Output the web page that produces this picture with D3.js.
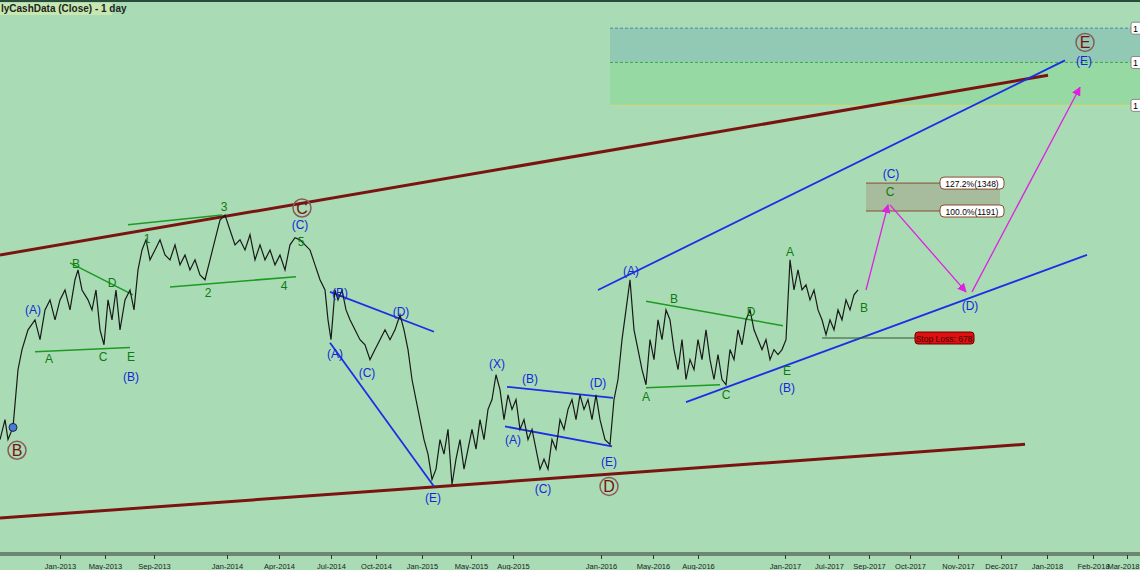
<!DOCTYPE html><html><head><meta charset="utf-8"><script src="https://cdn.jsdelivr.net/npm/d3@7"></script>
<style>body{margin:0;background:#a9dcb5}svg{display:block}</style></head><body><svg id="c" width="1140" height="570"></svg><script>
const days=[0,5,8,13,18,22,28,35,40,45,50,55,60,65,70,75,78,82,88,92,96,100,104,108,112,116,120,125,130,134,138,142,146,150,155,160,165,170,175,180,185,190,195,200,205,210,215,220,225,230,235,240,245,250,255,260,265,270,275,280,285,290,295,300,305,310,315,320,325,328,331,335,338,342,346,350,355,360,365,370,375,380,385,390,395,400,404,408,412,416,420,424,428,432,436,440,444,448,452,456,460,464,468,472,476,480,484,488,492,496,500,504,508,512,516,520,524,528,532,536,540,544,548,552,556,560,564,568,572,576,580,584,588,592,596,600,605,610,614,618,622,626,630,634,638,642,646,650,654,658,662,666,670,674,678,682,686,690,694,698,702,706,710,714,718,722,726,730,734,738,742,746,750,754,758,762,766,770,774,778,782,786,790,794,798,802,806,810,814,818,822,826,830,834,838,842,846,850,854,858];
const close=[432,472,432,456,589,644,703,735,673,768,803,735,803,839,768,878,917,839,803,768,839,703,658,803,735,839,703,803,839,768,917,1002,1048,959,1002,1048,980,959,1025,938,980,917,959,897,878,959,1048,1144,1170,1095,1025,1048,1002,1072,959,1025,959,1002,938,980,917,1025,1058,1048,1025,1002,938,878,839,735,673,839,803,839,768,735,703,673,658,616,644,673,703,673,703,751,703,644,564,516,472,432,405,362,379,432,405,452,354,396,432,379,414,452,414,472,432,494,516,576,539,472,527,494,516,452,472,432,452,414,379,396,379,432,414,472,452,494,516,472,527,494,516,472,527,472,432,423,516,564,673,768,878,703,644,589,551,673,616,735,673,768,735,644,589,673,564,616,589,673,616,703,616,564,630,564,551,644,616,703,658,735,768,703,673,644,673,616,644,630,644,673,959,839,917,839,858,803,839,768,735,688,735,703,768,735,803,768,821,839];
const tickDays=[60,105,154,227,279,331,376,422,471,513,601,653,698,785,829,869,910,958,1001,1047,1093,1127];
const tickLabels=["Jan-2013","May-2013","Sep-2013","Jan-2014","Apr-2014","Jul-2014","Oct-2014","Jan-2015","May-2015","Aug-2015","Jan-2016","May-2016","Aug-2016","Jan-2017","Jul-2017","Sep-2017","Oct-2017","Nov-2017","Dec-2017","Jan-2018","Feb-2018","Mar-2018"];
const maroonLines=[[[0,980],[1048,2174]],[[0,305],[1025,423]]];
const blueLines=[[[598,839],[1065,2323]],[[686,510],[1087,980]],[[330,832],[434,697]],[[330,664],[434,351]],[[507,546],[613,520]],[[505,458],[612,419]]];
const greenLines=[[[70,946],[133,821]],[[35,638],[130,650]],[[128,1120],[222,1170]],[[170,850],[296,890]],[[646,798],[783,716]],[[646,544],[720,551]]];
const arrows=[[[866,839],[888,1224]],[[890,1224],[966,832]],[[972,832],[1080,2062]]];
const stopLoss=678, fibHi=1348, fibLo=1191;
const circled=[[17,412,"B"],[302,1207,"C"],[609,351,"D"],[1085,2516,"E"]];
const blueLabels=[[33,771,"(A)"],[131,574,"(B)"],[300,1124,"(C)"],[340,832,"(B)"],[335,634,"(A)"],[367,584,"(C)"],[401,764,"(D)"],[433,335,"(E)"],[497,606,"(X)"],[530,569,"(B)"],[513,433,"(A)"],[543,349,"(C)"],[598,558,"(D)"],[609,393,"(E)"],[631,917,"(A)"],[787,546,"(B)"],[891,1409,"(C)"],[970,785,"(D)"],[1084,2323,"(E)"]];
const greenLabels=[[49,620,"A"],[103,626,"C"],[112,870,"D"],[76,946,"B"],[131,626,"E"],[147,1058,"1"],[224,1218,"3"],[208,832,"2"],[284,858,"4"],[301,1044,"5"],[674,811,"B"],[751,764,"D"],[646,525,"A"],[726,529,"C"],[787,587,"E"],[790,998,"A"],[864,778,"B"],[890,1301,"C"]];
const zoneLevels=[2680,2302,1903];

const svg=d3.select("#c");
const x=d3.scaleLinear().domain([0,1140]).range([0,1140]);
const y=d3.scaleLog().domain([1191,678]).range([211,338]);
const defs=svg.append("defs");
defs.append("marker").attr("id","ar").attr("viewBox","0 0 10 10").attr("refX",9).attr("refY",5).attr("markerWidth",7).attr("markerHeight",7).attr("orient","auto").append("path").attr("d","M0,0L10,5L0,10z").attr("fill","#e020e0");
svg.append("rect").attr("width",1140).attr("height",570).attr("fill","#a9dcb5");
svg.append("rect").attr("width",1140).attr("height",2).attr("fill","#2a4a3a");
svg.append("rect").attr("x",610).attr("y",y(zoneLevels[0])).attr("width",530).attr("height",y(zoneLevels[1])-y(zoneLevels[0])).attr("fill","#92c9b4");
svg.append("rect").attr("x",610).attr("y",y(zoneLevels[1])).attr("width",530).attr("height",y(zoneLevels[2])-y(zoneLevels[1])).attr("fill","#97d9a3");
[["#4f86a8","3,2"],["#3caa4a","3,2"],["#d6d67a",null]].forEach((s,i)=>{svg.append("line").attr("x1",610).attr("x2",1132).attr("y1",y(zoneLevels[i])).attr("y2",y(zoneLevels[i])).attr("stroke",s[0]).attr("stroke-dasharray",s[1]);
 svg.append("rect").attr("x",1131).attr("y",y(zoneLevels[i])-6).attr("width",14).attr("height",12).attr("rx",2).attr("fill","#fff").attr("stroke","#888");
 svg.append("text").attr("x",1133).attr("y",y(zoneLevels[i])+4).attr("font-size",9).attr("font-family","Liberation Sans").text("1");});
svg.append("rect").attr("x",866).attr("y",y(fibHi)).attr("width",134).attr("height",y(fibLo)-y(fibHi)).attr("fill","#a6b79a").attr("opacity",0.9);
[[fibHi,"127.2%(1348)"],[fibLo,"100.0%(1191)"]].forEach(d=>{svg.append("line").attr("x1",866).attr("x2",940).attr("y1",y(d[0])).attr("y2",y(d[0])).attr("stroke","#8a4a30");
 svg.append("rect").attr("x",940).attr("y",y(d[0])-6).attr("width",64).attr("height",12).attr("rx",4).attr("fill","#fff").attr("stroke","#8a4a30");
 svg.append("text").attr("x",972).attr("y",y(d[0])+4).attr("text-anchor","middle").attr("font-size",8.5).attr("font-family","Liberation Sans").text(d[1]);});
const ln=d3.line().x(d=>x(d[0])).y(d=>y(d[1]));
maroonLines.forEach(l=>svg.append("path").attr("d",ln(l)).attr("stroke","#7a1410").attr("stroke-width",3).attr("fill","none"));
blueLines.forEach(l=>svg.append("path").attr("d",ln(l)).attr("stroke","#1c2ee6").attr("stroke-width",1.8).attr("fill","none"));
greenLines.forEach(l=>svg.append("path").attr("d",ln(l)).attr("stroke","#1e9a22").attr("stroke-width",1.5).attr("fill","none"));
svg.append("path").attr("d",d3.line().x((d,i)=>x(days[i])).y(d=>y(d))(close)).attr("stroke","#1a1a1a").attr("stroke-width",1.2).attr("fill","none");
svg.append("line").attr("x1",x(822)).attr("x2",x(915)).attr("y1",y(stopLoss)).attr("y2",y(stopLoss)).attr("stroke","#335533");
svg.append("rect").attr("x",915).attr("y",y(stopLoss)-6).attr("width",59).attr("height",12).attr("rx",3).attr("fill","#e01010").attr("stroke","#600");
svg.append("text").attr("x",944).attr("y",y(stopLoss)+4).attr("text-anchor","middle").attr("font-size",8.5).attr("font-family","Liberation Sans").attr("fill","#400").text("Stop Loss: 678");
arrows.forEach(l=>svg.append("path").attr("d",ln(l)).attr("stroke","#e020e0").attr("stroke-width",1.3).attr("fill","none").attr("marker-end","url(#ar)"));
svg.append("circle").attr("cx",x(13)).attr("cy",y(456)).attr("r",4).attr("fill","#4a7ad8").attr("stroke","#224");
const F="Liberation Sans";
circled.forEach(d=>{svg.append("circle").attr("cx",x(d[0])).attr("cy",y(d[1])).attr("r",9).attr("fill","none").attr("stroke","#8a5a5a").attr("stroke-width",1.5);
 svg.append("text").attr("x",x(d[0])).attr("y",y(d[1])+6).attr("text-anchor","middle").attr("font-size",16).attr("font-family",F).attr("fill","#7a1010").text(d[2]);});
blueLabels.forEach(d=>svg.append("text").attr("x",x(d[0])).attr("y",y(d[1])+5).attr("text-anchor","middle").attr("font-size",12).attr("font-family",F).attr("fill","#1428d8").text(d[2]));
greenLabels.forEach(d=>svg.append("text").attr("x",x(d[0])).attr("y",y(d[1])+5).attr("text-anchor","middle").attr("font-size",12).attr("font-family",F).attr("fill","#107a10").text(d[2]));
svg.append("rect").attr("x",0).attr("y",3).attr("width",112).attr("height",12).attr("fill","#c6e8b0");
svg.append("text").attr("x",1).attr("y",12).attr("font-size",10).attr("font-weight","bold").attr("font-family",F).attr("fill","#222").text("lyCashData (Close) - 1 day");
svg.append("line").attr("x1",0).attr("x2",1140).attr("y1",553).attr("y2",553).attr("stroke","#333");
svg.append("line").attr("x1",0).attr("x2",1140).attr("y1",555).attr("y2",555).attr("stroke","#333");
const ax=d3.axisBottom(x).tickValues(tickDays).tickFormat((d,i)=>tickLabels[i]).tickSize(4);
const g=svg.append("g").attr("transform","translate(0,555)").call(ax);
g.select(".domain").remove();
g.selectAll("text").attr("font-size",7.5).attr("font-family",F).attr("fill","#222").attr("dy","0.9em");
g.selectAll("text").filter((d,i)=>i===tickDays.length-1).attr("text-anchor","end").attr("x",12);
g.selectAll("line").attr("stroke","#333");
</script></body></html>
